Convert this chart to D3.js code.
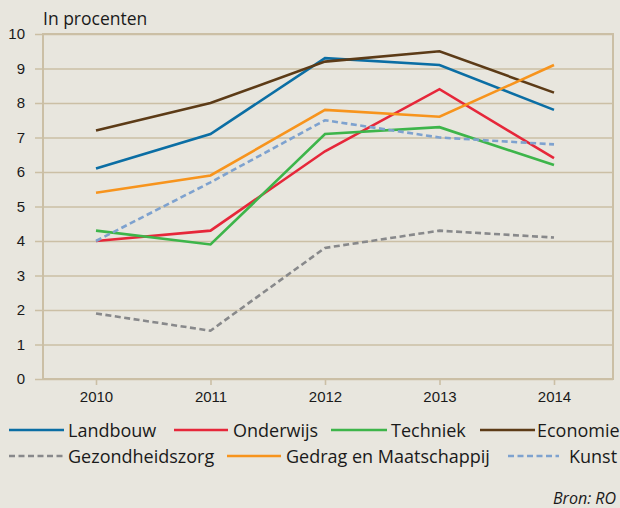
<!DOCTYPE html>
<html>
<head>
<meta charset="utf-8">
<script src="https://cdn.jsdelivr.net/npm/d3@7"></script>
<style>
  html, body { margin: 0; padding: 0; background: #e8e6de; }
  svg { display: block; font-family: "Open Sans", sans-serif; }
</style>
</head>
<body>
<div id="chart"></div>
<script>
// data
const years = ['2010', '2011', '2012', '2013', '2014'];
const landbouw = [6.1, 7.1, 9.3, 9.1, 7.8];
const onderwijs = [4.0, 4.3, 6.6, 8.4, 6.4];
const techniek = [4.3, 3.9, 7.1, 7.3, 6.2];
const economie = [7.2, 8.0, 9.2, 9.5, 8.3];
const gezondheidszorg = [1.9, 1.4, 3.8, 4.3, 4.1];
const gedrag = [5.4, 5.9, 7.8, 7.6, 9.1];
const kunst = [4.0, 5.7, 7.5, 7.0, 6.8];
const yTicks = [0, 1, 2, 3, 4, 5, 6, 7, 8, 9, 10];

const series = [
  { name: 'Landbouw', values: landbouw, color: '#0b6ea4', dash: null },
  { name: 'Onderwijs', values: onderwijs, color: '#e6273a', dash: null },
  { name: 'Techniek', values: techniek, color: '#3db54a', dash: null },
  { name: 'Economie', values: economie, color: '#5c3b17', dash: null },
  { name: 'Gezondheidszorg', values: gezondheidszorg, color: '#88898b', dash: '6,3.5' },
  { name: 'Gedrag en Maatschappij', values: gedrag, color: '#f7941d', dash: null },
  { name: 'Kunst', values: kunst, color: '#7ea2cf', dash: '6,3.5' }
];

const width = 620, height = 508;
const frame = { left: 43, right: 613, top: 34, bottom: 379 };
const gridColor = '#cbbfa5';

const svg = d3.select('#chart').append('svg')
    .attr('width', width)
    .attr('height', height);

const x = d3.scalePoint().domain(years).range([96, 554]);
const y = d3.scaleLinear().domain([0, 10]).range([frame.bottom, frame.top]);

// gridlines + y labels
const yAxis = svg.append('g')
    .attr('transform', `translate(35,0)`)
    .call(d3.axisLeft(y).tickValues(yTicks).tickSize(-(frame.right - 35)).tickPadding(10));
yAxis.select('.domain').remove();
yAxis.selectAll('line').attr('stroke', gridColor).attr('stroke-width', 1.6);
yAxis.selectAll('text')
    .attr('fill', '#1a1a1a')
    .attr('font-size', 15)
    .style('font-family', 'inherit');

// frame
svg.append('rect')
    .attr('x', frame.left).attr('y', frame.top)
    .attr('width', frame.right - frame.left).attr('height', frame.bottom - frame.top)
    .attr('fill', 'none')
    .attr('stroke', gridColor)
    .attr('stroke-width', 2);

// x axis
const xAxis = svg.append('g')
    .attr('transform', `translate(0,${frame.bottom})`)
    .call(d3.axisBottom(x).tickSize(6).tickPadding(6));
xAxis.select('.domain').remove();
xAxis.selectAll('line').attr('stroke', gridColor).attr('stroke-width', 1.6);
xAxis.selectAll('text')
    .attr('fill', '#1a1a1a')
    .attr('font-size', 15)
    .style('font-family', 'inherit');

// title
svg.append('text')
    .attr('x', 43).attr('y', 25)
    .attr('font-size', 17.5)
    .attr('fill', '#1a1a1a')
    .text('In procenten');

// lines
const line = d3.line()
    .x((d, i) => x(years[i]))
    .y(d => y(d));

svg.append('g').selectAll('path')
    .data(series)
    .join('path')
    .attr('fill', 'none')
    .attr('stroke', d => d.color)
    .attr('stroke-width', 2.6)
    .attr('stroke-dasharray', d => d.dash)
    .attr('d', d => line(d.values));

// legend: [line start, line end, text start, y]
const legendPos = [
  [9, 64, 68, 430], [174, 228, 233, 430], [331, 387, 391, 430], [480, 535, 537, 430],
  [9, 64, 68, 456], [227, 281, 286, 456], [508, 559, 569, 456]
];
const legend = svg.append('g').selectAll('g')
    .data(series)
    .join('g')
    .attr('transform', (d, i) => `translate(0,${legendPos[i][3]})`);
legend.append('line')
    .attr('x1', (d, i) => legendPos[i][0])
    .attr('x2', (d, i) => legendPos[i][1])
    .attr('stroke', d => d.color)
    .attr('stroke-width', 2.6)
    .attr('stroke-dasharray', d => d.dash);
legend.append('text')
    .attr('x', (d, i) => legendPos[i][2])
    .attr('y', 7)
    .attr('font-size', 18)
    .attr('fill', '#1a1a1a')
    .text(d => d.name);

// source
svg.append('text')
    .attr('x', 616).attr('y', 504)
    .attr('text-anchor', 'end')
    .attr('font-size', 16)
    .attr('font-style', 'italic')
    .attr('fill', '#1a1a1a')
    .text('Bron: RO');
</script>
</body>
</html>
